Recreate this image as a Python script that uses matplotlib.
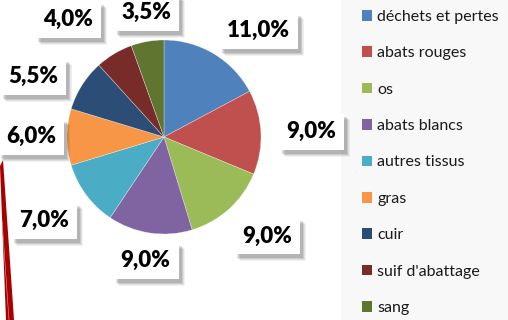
import matplotlib
matplotlib.use("Agg")
import matplotlib.pyplot as plt
from matplotlib.patches import Patch, Rectangle, Polygon
from matplotlib.transforms import IdentityTransform

plt.rcParams['font.family'] = ['Lato', 'DejaVu Sans']

# Répartition des co-produits d'abattage (%)
categories = ["déchets et pertes", "abats rouges", "os", "abats blancs", "autres tissus",
              "gras", "cuir", "suif d'abattage", "sang"]
valeurs = [11.0, 9.0, 9.0, 9.0, 7.0, 6.0, 5.5, 4.0, 3.5]
couleurs = ["#4F81BD", "#C0504D", "#9BBB59", "#8064A2", "#4BACC6",
            "#F79646", "#2C4D75", "#772C2A", "#5F7530"]
# positions des étiquettes (repère du camembert, rayon = 1)
pos_etiquettes = [(0.97, 1.10), (1.52, 0.06), (1.06, -1.02), (-0.19, -1.27), (-1.24, -0.86),
                  (-1.37, 0.01), (-1.35, 0.62), (-0.99, 1.21), (-0.18, 1.28)]

W, H = 508, 320
fig = plt.figure(figsize=(W / 100, H / 100), dpi=100)
fig.patch.set_facecolor("white")

# panneau gris de la légende
fig.add_artist(Rectangle((341 / W, 0), 1 - 341 / W, 1, transform=fig.transFigure,
                         facecolor="#F8F8F8", edgecolor="none", zorder=0))

# trait rouge décoratif à gauche
fig.add_artist(Polygon([(0, 1 - 166 / H), (3 / W, 1 - 160 / H), (14 / W, 0), (6 / W, 0)],
                       closed=True, transform=fig.transFigure, facecolor="#A80000",
                       edgecolor="none", zorder=1))
fig.add_artist(plt.Line2D([2 / W, 9 / W], [1 - 220 / H, 0], transform=fig.transFigure,
                          color="#E8A0A0", lw=0.4, zorder=1))

cx, cy, r = 164, 137, 97
ax = fig.add_axes([(cx - r) / W, (H - cy - r) / H, 2 * r / W, 2 * r / H], zorder=2)
ax.pie(valeurs, colors=couleurs, startangle=90, counterclock=False,
       wedgeprops=dict(linewidth=0.4, edgecolor="#FFFFFF80"))
ax.set_xlim(-1, 1)
ax.set_ylim(-1, 1)
ax.set_aspect("equal")
ax.axis("off")

# étiquettes de pourcentage avec cadre blanc
etiquettes = []
for v, (x, y) in zip(valeurs, pos_etiquettes):
    txt = f"{v:.1f}%".replace(".", ",")
    t = ax.text(x, y, txt, ha="center", va="center", fontsize=16, fontweight="heavy",
                color="black", clip_on=False, zorder=7,
                bbox=dict(boxstyle="square,pad=0.36", fc="white", ec="none"))
    etiquettes.append(t)

# ombre portée sous chaque cadre (couches décalées pour l'adoucir)
fig.canvas.draw()
for t in etiquettes:
    bb = t.get_bbox_patch().get_window_extent()
    for k, (dx, dy, a) in enumerate([(6, -7, 0.05), (5, -6, 0.07), (4, -5, 0.09), (3, -4, 0.11)]):
        ax.add_artist(Rectangle((bb.x0 + dx, bb.y0 + dy), bb.width, bb.height,
                                transform=IdentityTransform(), facecolor="black", alpha=a,
                                edgecolor="none", clip_on=False, zorder=5 + k * 0.1))

handles = [Patch(facecolor=c, edgecolor="none") for c in couleurs]
fig.legend(handles, categories, loc="upper left", bbox_to_anchor=(362 / W, 1 - 10 / H),
           frameon=False, fontsize=11.5, handlelength=0.65, handleheight=0.65,
           handletextpad=0.3, labelspacing=1.4, borderpad=0, borderaxespad=0,
           labelcolor="#1A1A1A")

fig.savefig("out.png", dpi=100)
